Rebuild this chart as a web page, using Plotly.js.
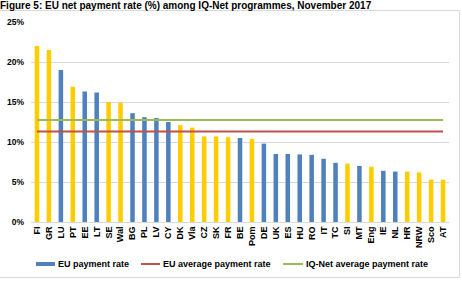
<!DOCTYPE html>
<html>
<head>
<meta charset="utf-8">
<script src="https://cdn.plot.ly/plotly-3.0.1.min.js"></script>
<style>
html, body { margin: 0; padding: 0; background: #fff; }
#chart { width: 462px; height: 282px; }
</style>
</head>
<body>
<div id="chart"></div>
<script>
// Data
var programmes = ["FI","GR","LU","PT","EE","LT","SE","Wal","BG","PL","LV","CY","DK","Vla","CZ","SK","FR","BE","Pom","DE","UK","ES","HU","RO","IT","TC","SI","MT","Eng","IE","NL","HR","NRW","Sco","AT"];
var paymentRate = [22.0,21.5,19.0,16.9,16.3,16.2,15.0,14.9,13.6,13.1,13.0,12.5,12.1,11.8,10.7,10.7,10.6,10.5,10.4,9.8,8.5,8.5,8.45,8.4,7.9,7.4,7.3,7.0,6.9,6.4,6.3,6.3,6.2,5.3,5.3];
var iqNetMember = [1,1,0,1,0,0,1,1,0,0,0,0,1,1,1,1,1,0,1,0,0,0,0,0,0,0,1,0,1,0,0,1,1,1,1];
var euAverage = 11.3;
var iqNetAverage = 12.75;
var yTickVals = [0,5,10,15,20,25];
var yTickText = ["0%","5%","10%","15%","20%","25%"];
var legendNames = ["EU payment rate","EU average payment rate","IQ-Net average payment rate"];

var BLUE = "#4F81BD", GOLD = "#FFCC00", RED = "#C0504D", GREEN = "#9BBB59";
var barColors = iqNetMember.map(function(m){ return m ? GOLD : BLUE; });
var firstLast = [programmes[0], programmes[programmes.length-1]];

var traces = [
  { type: "bar", x: programmes, y: paymentRate, marker: { color: barColors },
    name: legendNames[0], showlegend: false, hoverinfo: "x+y" },
  { type: "scatter", mode: "lines", x: firstLast, y: [euAverage, euAverage],
    name: legendNames[1], showlegend: false, line: { color: RED, width: 2 } },
  { type: "scatter", mode: "lines", x: firstLast, y: [iqNetAverage, iqNetAverage],
    name: legendNames[2], showlegend: false, line: { color: GREEN, width: 2 } }
];

var F = "Arial, 'Liberation Sans', sans-serif";
var L = 31, T = 22, W = 418, H = 200;
function px(x) { return (x - L) / W; }
function py(y) { return (T + H - y) / H; }

// Legend drawn as shapes + annotations (short Excel-style samples)
var legendSamples = [
  { x0: 36, x1: 55, color: BLUE, width: 4, tx: 56 },
  { x0: 141, x1: 160, color: RED, width: 2, tx: 161 },
  { x0: 283, x1: 303, color: GREEN, width: 2, tx: 304 }
];
var legY = 264;
var shapes = [{ type: "rect", xref: "paper", yref: "paper",
  x0: px(-1), x1: px(459.5), y0: py(277.5), y1: py(10.5),
  line: { color: "#d9d9d9", width: 1 }, fillcolor: "rgba(0,0,0,0)", layer: "below" }];
var annotations = [];
legendSamples.forEach(function(s, i) {
  shapes.push({ type: "line", xref: "paper", yref: "paper", x0: px(s.x0), x1: px(s.x1),
    y0: py(legY), y1: py(legY), line: { color: s.color, width: s.width } });
  annotations.push({ xref: "paper", yref: "paper", x: px(s.tx), y: py(legY),
    xanchor: "left", yanchor: "middle", showarrow: false, text: legendNames[i],
    font: { family: F, size: 9, color: "#000", weight: "bold" } });
});

var layout = {
  width: 462, height: 282,
  margin: { l: L, r: 462 - L - W, t: T, b: 282 - T - H },
  paper_bgcolor: "#fff", plot_bgcolor: "#fff",
  showlegend: false,
  title: { text: "Figure 5: EU net payment rate (%) among IQ-Net programmes, November 2017",
    x: 0, xanchor: "left", xref: "container", y: 0.993, yanchor: "top", yref: "container",
    pad: { t: 0, l: 0 },
    font: { family: F, size: 10, color: "#000", weight: "bold" } },
  bargap: 0.62,
  xaxis: { type: "category", tickangle: -90, tickfont: { family: F, size: 9, color: "#000", weight: "bold" },
    showgrid: false, showline: true, linecolor: "#d9d9d9", linewidth: 1, ticks: "",
    range: [-0.5, programmes.length - 0.5], fixedrange: true },
  yaxis: { range: [0, 25], tickvals: yTickVals, ticktext: yTickText,
    tickfont: { family: F, size: 8.5, color: "#000", weight: "bold" },
    showgrid: true, gridcolor: "#d9d9d9", gridwidth: 1, zeroline: false,
    showline: false, ticklabelstandoff: 6, fixedrange: true },
  shapes: shapes,
  annotations: annotations
};

Plotly.newPlot("chart", traces, layout, { displayModeBar: false, staticPlot: true });
</script>
</body>
</html>
